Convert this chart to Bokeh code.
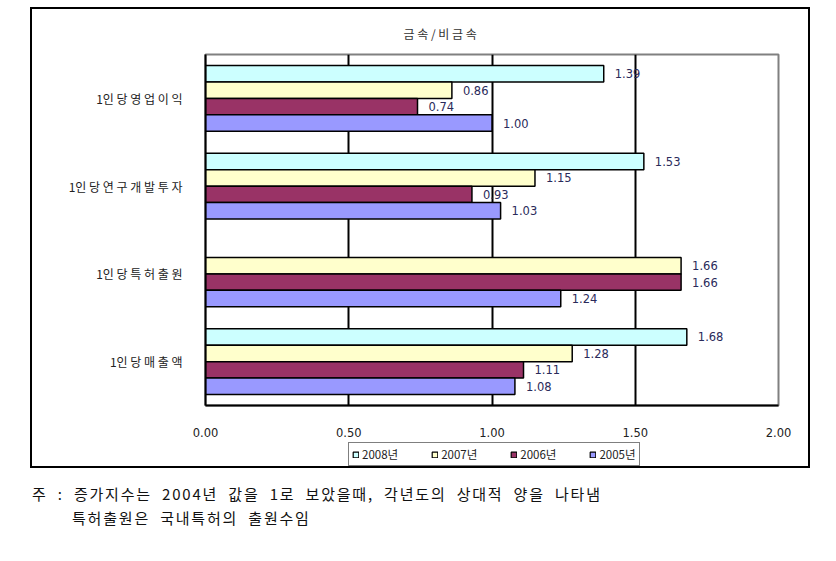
import math
from bokeh.plotting import figure
from bokeh.models import (ColumnDataSource, FactorRange, Range1d, FixedTicker,
                          NumeralTickFormatter, Legend, LegendItem, Div)
from bokeh.transform import dodge
from bokeh.layouts import column
from bokeh.embed import file_html
from bokeh.resources import INLINE
from bokeh.core.properties import value

# ---------------- data ----------------
categories = ["1인 당 영 업 이 익", "1인 당 연 구 개 발 투 자", "1인 당 특 허 출 원", "1인 당 매 출 액"]
years = ["2008년", "2007년", "2006년", "2005년"]
v2008 = [1.39, 1.53, None, 1.68]
v2007 = [0.86, 1.15, 1.66, 1.28]
v2006 = [0.74, 0.93, 1.66, 1.11]
v2005 = [1.00, 1.03, 1.24, 1.08]
colors = ["#CCFFFF", "#FFFFCC", "#993366", "#9999FF"]
x_ticks = [0.0, 0.5, 1.0, 1.5, 2.0]
title_text = "금 속 / 비 금 속"
note_lines = ["주 : 증가지수는 2004년 값을 1로 보았을때, 각년도의 상대적 양을 나타냄",
              "특허출원은 국내특허의 출원수임"]

series = [v2008, v2007, v2006, v2005]
offsets = [0.28125, 0.09375, -0.09375, -0.28125]
bar_h = 0.1875

KFONT = "Noto Sans CJK KR"
NFONT = "DejaVu Sans"

# ---------------- main chart ----------------
p = figure(y_range=FactorRange(factors=list(reversed(categories))),
           x_range=Range1d(0, 2.0),
           width=780, height=435, output_backend="svg", toolbar_location=None,
           min_border_left=173, min_border_right=34, min_border_top=43,
           min_border_bottom=39)
p.margin = (7, 0, 0, 30)
p.styles = {"border": "2px solid black", "border-bottom": "none",
            "box-sizing": "border-box"}

for yr, vals, col, off in zip(years, series, colors, offsets):
    nums = [float("nan") if v is None else v for v in vals]
    src = ColumnDataSource(dict(cat=list(categories), val=nums))
    p.hbar(y=dodge("cat", off, range=p.y_range), left=0, right="val", height=bar_h,
           fill_color=col, line_color="black", line_width=1.5, source=src)
    lc = [c for c, v in zip(categories, vals) if v is not None]
    lv = [v for v in vals if v is not None]
    lsrc = ColumnDataSource(dict(cat=lc, val=lv, lab=["%.2f" % v for v in lv]))
    p.text(x="val", y=dodge("cat", off, range=p.y_range), text="lab", source=lsrc,
           x_offset=11, text_baseline="middle", text_align="left",
           text_font_size="11.5px", text_color="#2a2a5a", text_font=value(NFONT))

# title
p.title.text = title_text
p.title.align = "left"
p.title.offset = 198
p.title.standoff = 26
p.title.text_font = KFONT
p.title.text_font_size = "12px"
p.title.text_font_style = "normal"
p.title.text_color = "#333333"

# axes
p.xaxis.ticker = FixedTicker(ticks=x_ticks)
p.xaxis.formatter = NumeralTickFormatter(format="0.00")
p.xaxis.major_label_text_font_size = "11.5px"
p.xaxis.major_label_text_font = NFONT
p.xaxis.major_label_text_color = "#222222"
p.xaxis.major_tick_line_color = None
p.xaxis.minor_tick_line_color = None
p.xaxis.axis_line_color = "black"
p.xaxis.axis_line_width = 2
p.xaxis.major_label_standoff = 16

p.yaxis.major_label_text_font = KFONT
p.yaxis.major_label_text_font_size = "12px"
p.yaxis.major_label_text_color = "#222222"
p.yaxis.major_tick_line_color = None
p.yaxis.axis_line_color = "black"
p.yaxis.axis_line_width = 2
p.yaxis.major_label_standoff = 17

p.ygrid.grid_line_color = None
p.xgrid.ticker = FixedTicker(ticks=[0.5, 1.0, 1.5])
p.xgrid.grid_line_color = "black"
p.xgrid.grid_line_width = 2

p.outline_line_color = "#808080"
p.outline_line_width = 2
p.background_fill_color = "white"

# ---------------- legend strip (inside the same outer box) ----------------
q = figure(width=780, height=26, output_backend="svg", toolbar_location=None,
           x_range=Range1d(0, 1), y_range=Range1d(0, 1),
           x_axis_type=None, y_axis_type=None, min_border=0)
q.styles = {"border": "2px solid black", "border-top": "none",
            "box-sizing": "border-box"}
q.margin = (0, 0, 0, 30)
q.outline_line_color = None
q.grid.grid_line_color = None

items = []
for yr, col in zip(years, colors):
    proxy = ColumnDataSource(dict(y=[float("nan")], right=[float("nan")]))
    r = q.hbar(y="y", left=0, right="right", height=0.1, fill_color=col,
               line_color="black", line_width=1.2, source=proxy)
    items.append(LegendItem(label=yr, renderers=[r]))

legend = Legend(items=items, orientation="horizontal", location=(143, 2),
                label_text_font=KFONT, label_text_font_size="11.5px",
                label_text_color="#222222", glyph_width=7, glyph_height=7,
                label_standoff=3, spacing=33, padding=3, margin=0,
                border_line_color="black", border_line_width=1.5,
                label_height=11)
q.add_layout(legend, "center")

note_html = ("<div>%s</div><div style='padding-left:40px'>%s</div>"
             % (note_lines[0], note_lines[1]))
note = Div(text=note_html, width=760,
           styles={"font-family": KFONT, "font-size": "15px", "line-height": "24px",
                   "letter-spacing": "1.8px", "word-spacing": "5px",
                   "color": "#111111"},
           margin=(14, 0, 0, 32))

layout = column(p, q, note, spacing=0)
open("out.html", "w").write(file_html(layout, INLINE))
